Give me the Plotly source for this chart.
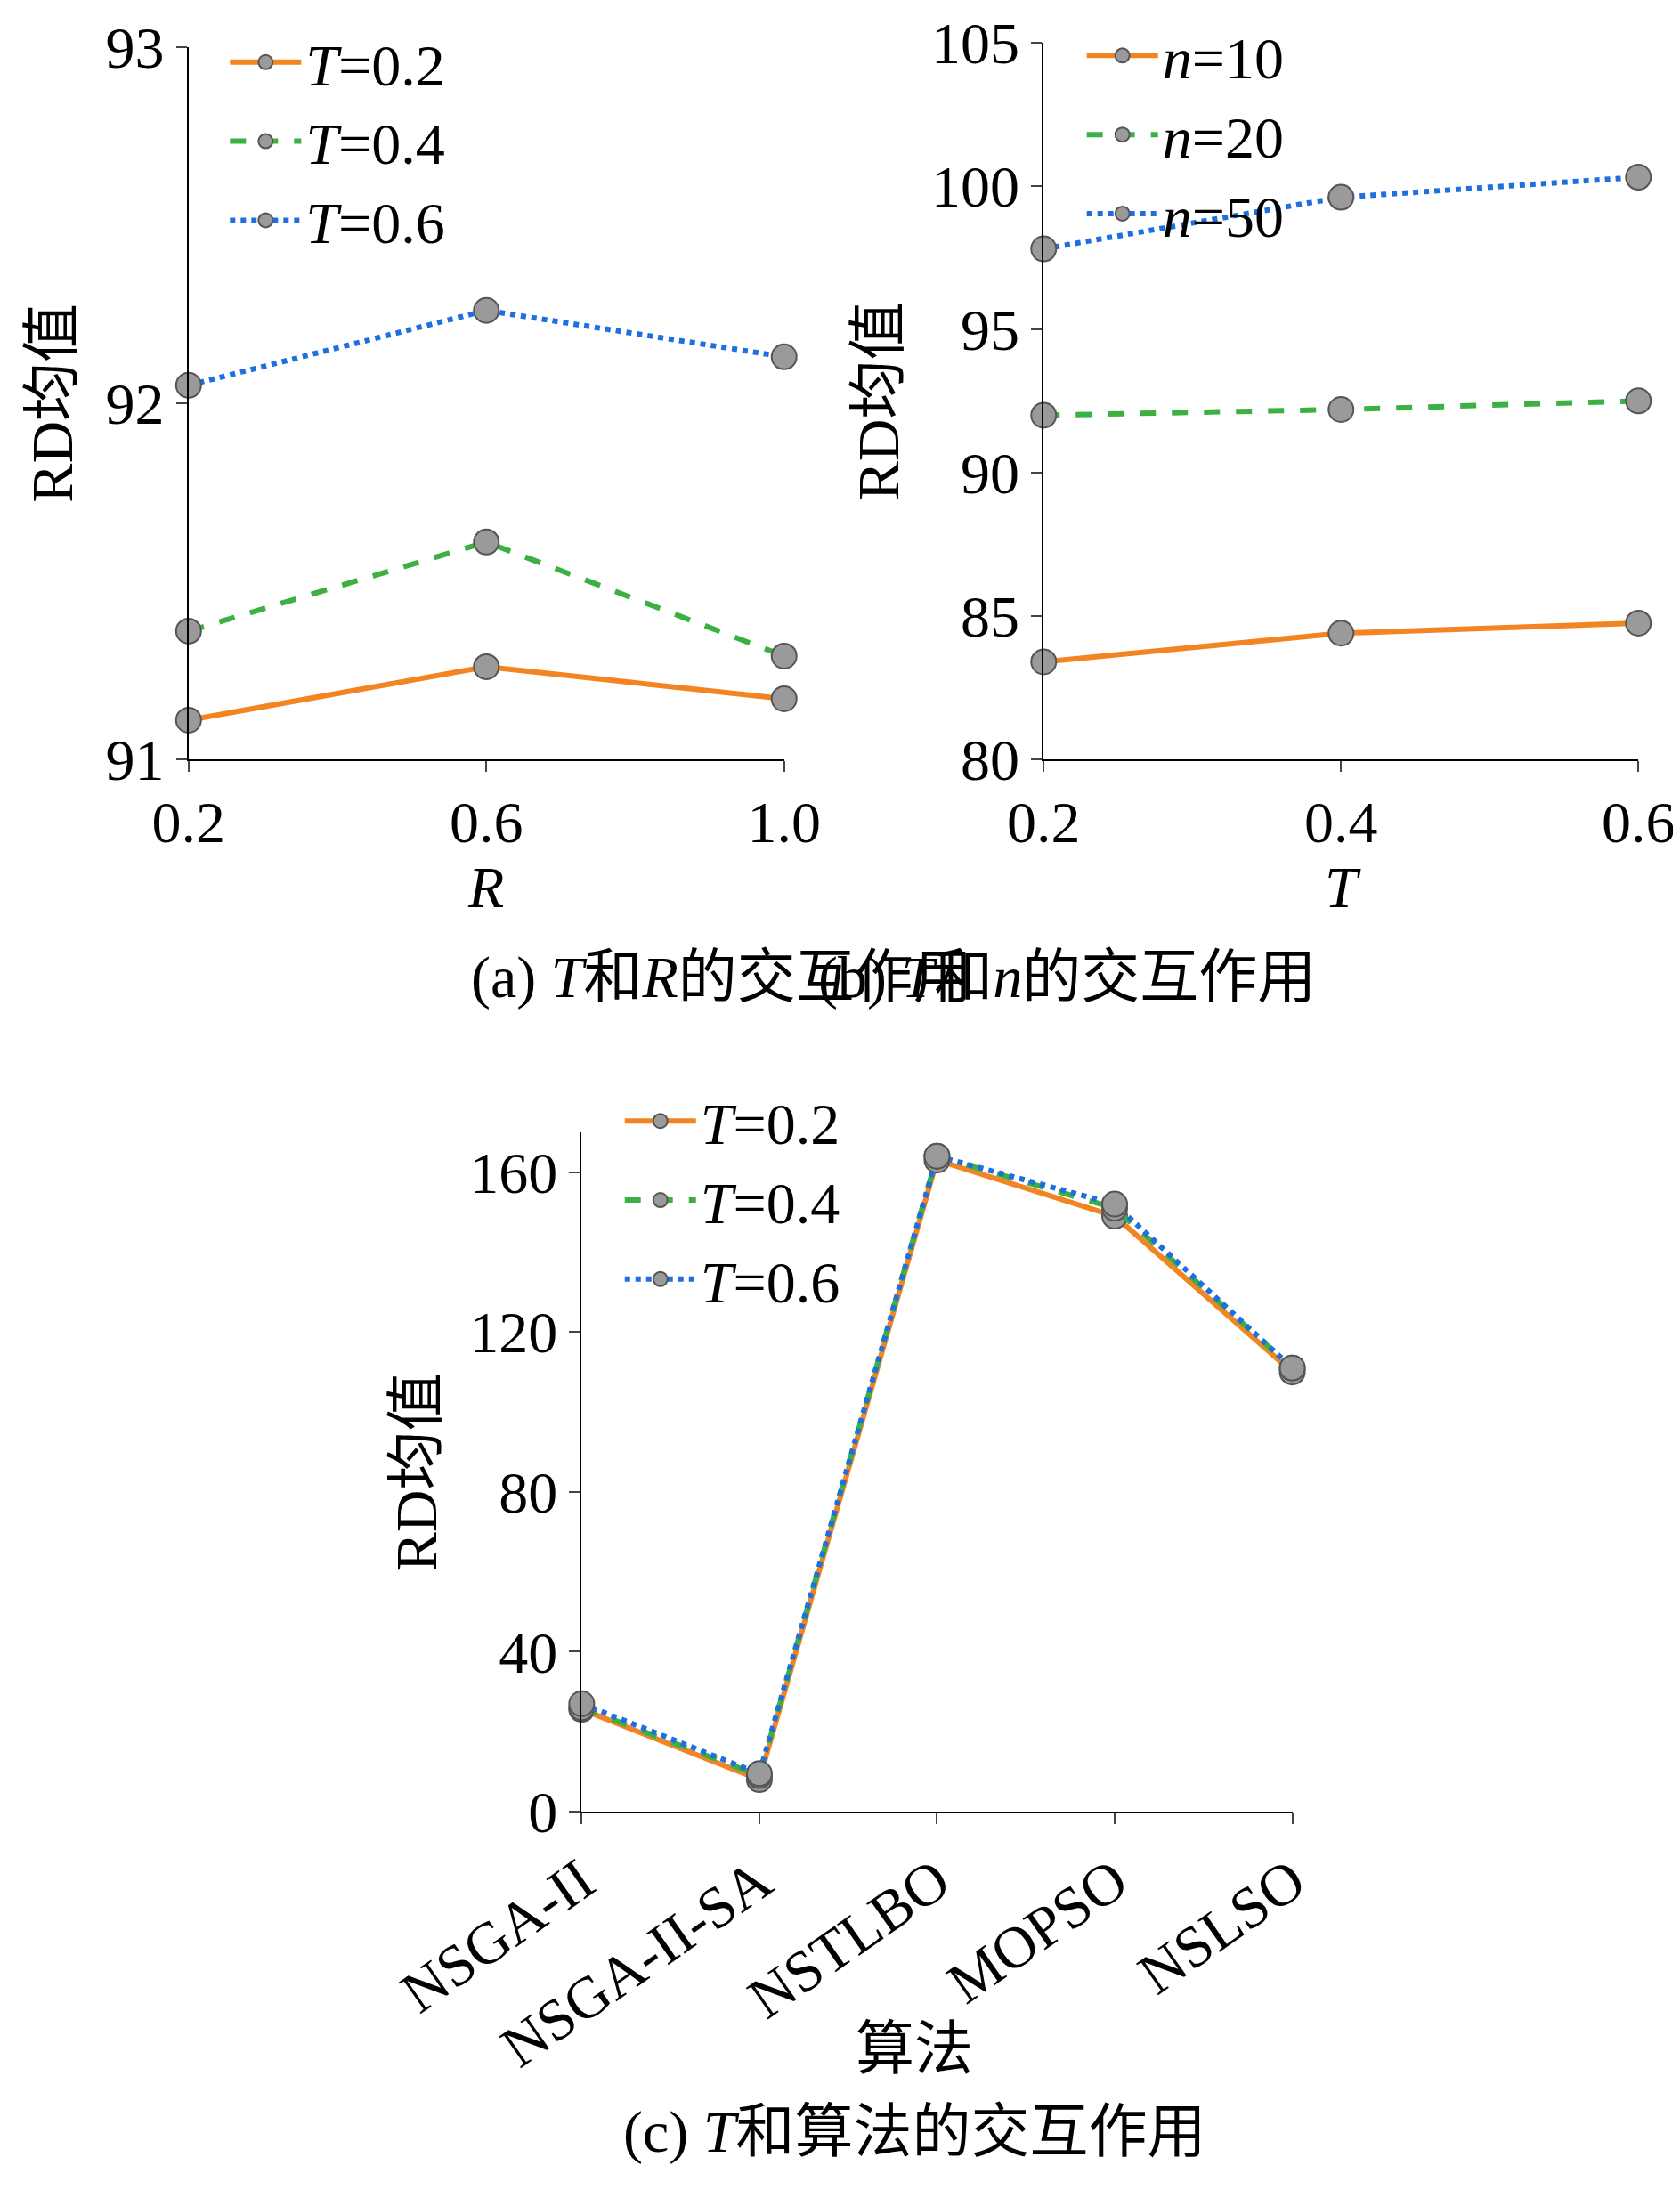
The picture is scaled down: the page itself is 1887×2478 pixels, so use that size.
import plotly.graph_objects as go

# panel (a): T x R
r_vals = [0.2, 0.6, 1.0]
a_t02 = [91.11, 91.26, 91.17]
a_t04 = [91.36, 91.61, 91.29]
a_t06 = [92.05, 92.26, 92.13]

# panel (b): T x n
t_vals = [0.2, 0.4, 0.6]
b_n10 = [83.4, 84.4, 84.75]
b_n20 = [92.0, 92.2, 92.5]
b_n50 = [97.8, 99.6, 100.3]

# panel (c): T x algorithm
algos = ["NSGA-II", "NSGA-II-SA", "NSTLBO", "MOPSO", "NSLSO"]
c_t02 = [25.6, 8.0, 163.0, 149.0, 110.0]
c_t04 = [26.0, 9.0, 164.0, 151.0, 111.0]
c_t06 = [27.0, 9.5, 164.0, 152.0, 111.0]

SERIF = "Liberation Serif, Times New Roman, serif"
CJK = "Liberation Serif, Noto Sans CJK SC"
FS = 66

styles = [
    dict(color="#f28522", dash="solid"),
    dict(color="#3cb043", dash="dash"),
    dict(color="#1f6fe0", dash="dot"),
]
marker = dict(size=28, color="#9a9a9a", line=dict(color="#555555", width=2))

fig = go.Figure()


def add(x, y, name, st, xa, ya, leg):
    fig.add_trace(go.Scatter(
        x=x, y=y, name=name, mode="lines+markers",
        line=dict(color=st["color"], dash=st["dash"], width=6),
        marker=marker, xaxis=xa, yaxis=ya, legend=leg, cliponaxis=False,
    ))


for ys, nm, st in zip([a_t02, a_t04, a_t06], ["<i>T</i>=0.2", "<i>T</i>=0.4", "<i>T</i>=0.6"], styles):
    add(r_vals, ys, nm, st, "x", "y", "legend")
for ys, nm, st in zip([b_n10, b_n20, b_n50], ["<i>n</i>=10", "<i>n</i>=20", "<i>n</i>=50"], styles):
    add(t_vals, ys, nm, st, "x2", "y2", "legend2")
for ys, nm, st in zip([c_t02, c_t04, c_t06], ["<i>T</i>=0.2", "<i>T</i>=0.4", "<i>T</i>=0.6"], styles):
    add(algos, ys, nm, st, "x3", "y3", "legend3")

ax = dict(showline=True, linecolor="black", linewidth=2, ticks="outside",
          ticklen=12, tickwidth=2, showgrid=False, zeroline=False, automargin=False,
          tickfont=dict(family=SERIF, size=FS, color="black"))

fig.update_layout(
    width=1887, height=2478, plot_bgcolor="white", paper_bgcolor="white",
    margin=dict(l=0, r=0, t=0, b=0, autoexpand=False),
    font=dict(family=SERIF, size=FS, color="black"),
    xaxis=dict(ax, domain=[0.108, 0.4625], range=[0.2, 1.0], tickvals=r_vals,
               ticktext=["0.2", "0.6", "1.0"],
               title=dict(text="<i>R</i>", standoff=5, font=dict(size=FS))),
    yaxis=dict(ax, domain=[0.659, 0.982], range=[91, 93], tickvals=[91, 92, 93],
               title=dict(text="RD均值", standoff=15, font=dict(family=CJK, size=FS))),
    xaxis2=dict(ax, domain=[0.617, 0.971], range=[0.2, 0.6], tickvals=t_vals,
                anchor="y2", title=dict(text="<i>T</i>", standoff=5, font=dict(size=FS))),
    yaxis2=dict(ax, domain=[0.659, 0.984], range=[80, 105], dtick=5, anchor="x2",
                title=dict(text="RD均值", standoff=15, font=dict(family=CJK, size=FS))),
    xaxis3=dict(ax, domain=[0.342, 0.765], type="category", range=[0, 4],
                tickangle=-35, anchor="y3"),
    yaxis3=dict(ax, domain=[0.182, 0.490], range=[0, 170], tickvals=[0, 40, 80, 120, 160],
                anchor="x3",
                title=dict(text="RD均值", standoff=15, font=dict(family=CJK, size=FS))),
    legend=dict(x=0.13, y=0.995, xanchor="left", yanchor="top", bgcolor="rgba(0,0,0,0)",
                font=dict(size=FS), tracegroupgap=0, itemwidth=80),
    legend2=dict(x=0.64, y=0.998, xanchor="left", yanchor="top", bgcolor="rgba(0,0,0,0)",
                 font=dict(size=FS), tracegroupgap=0, itemwidth=80),
    legend3=dict(x=0.365, y=0.515, xanchor="left", yanchor="top", bgcolor="rgba(0,0,0,0)",
                 font=dict(size=FS), tracegroupgap=0, itemwidth=80),
)

for txt, x, y in [
    ("(a) <i>T</i>和<i>R</i>的交互作用", 0.275, 0.56),
    ("(b) <i>T</i>和<i>n</i>的交互作用", 0.78, 0.56),
    ("算法", 0.54, 0.059),
    ("(c) <i>T</i>和算法的交互作用", 0.54, 0.021),
]:
    fig.add_annotation(text=txt, x=x, y=y, xref="paper", yref="paper", showarrow=False,
                       font=dict(family=CJK, size=FS, color="black"))

fig.write_html("out.html")
